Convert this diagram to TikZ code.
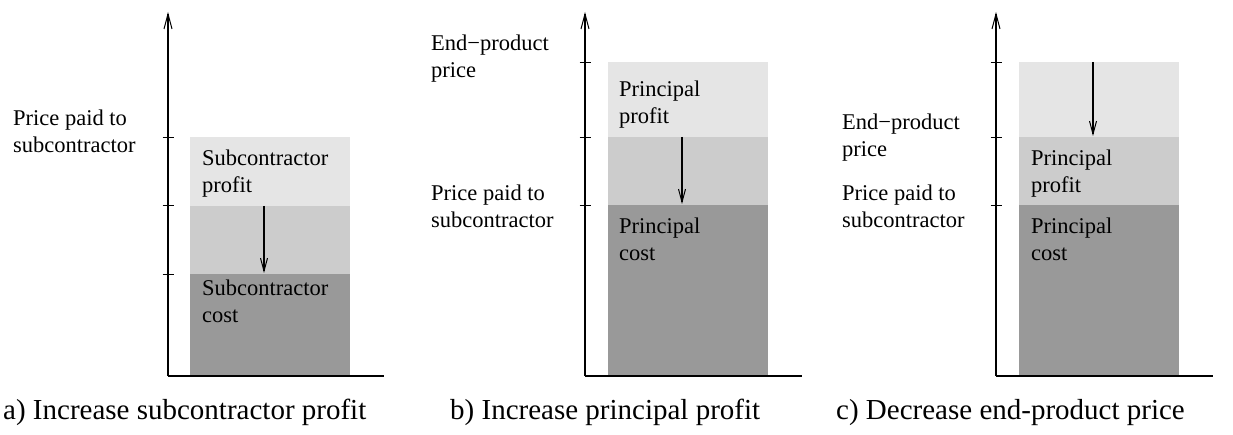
\documentclass[tikz,border=0pt]{standalone}
\usepackage{fontspec}
\setmainfont{Liberation Serif}
\usetikzlibrary{arrows.meta}
\definecolor{layerlight}{HTML}{E5E5E5}
\definecolor{layermid}{HTML}{CCCCCC}
\definecolor{layerdark}{HTML}{999999}
\begin{document}
\begin{tikzpicture}[x=1pt,y=-1pt,
  % two-line labels are placed by the baseline of their last line
  lbl/.style={anchor=base west, inner sep=0pt, align=left,
              font=\fontsize{22.5}{27.5}\selectfont},
  captxt/.style={anchor=base west, inner sep=0pt,
              font=\fontsize{29}{34}\selectfont},
  axisline/.style={line width=1.5pt},
  yaxis/.style={axisline, -{Straight Barb[length=15pt,width=8pt,line width=1pt]}},
  tickmark/.style={line width=0.9pt},
  shiftarrow/.style={line width=1.2pt, -{Straight Barb[length=13pt,width=7pt,line width=1pt]}}]
\useasboundingbox (0,0) rectangle (1233,435);

% ---------- a) subcontractor profit ----------
\fill[layerlight] (190,137) rectangle (350,206);
\fill[layermid]   (190,206) rectangle (350,274);
\fill[layerdark]  (190,274) rectangle (350,375);
\coordinate (a-o) at (168,376);
\coordinate (a-top) at (168,12);
\coordinate (a-end) at (384,376);
\draw[yaxis] (a-o) -- (a-top);
\draw[axisline] (a-o) -- (a-end);
\foreach \y in {137,205,274} \draw[tickmark] (162.5,\y) -- (173.5,\y);
\coordinate (a-from) at (264,206);
\coordinate (a-to) at (264,273);
\draw[shiftarrow] (a-from) -- (a-to);
\node[lbl] (a-paid) at (13,153) {Price paid to\\subcontractor};
\node[lbl] (a-profit) at (202,193) {Subcontractor\\profit};
\node[lbl] (a-cost) at (202,323) {Subcontractor\\cost};
\node[captxt] (a-cap) at (3,419) {a) Increase subcontractor profit};

% ---------- b) principal profit ----------
\fill[layerlight] (608,62) rectangle (768,137);
\fill[layermid]   (608,137) rectangle (768,205);
\fill[layerdark]  (608,205) rectangle (768,375);
\coordinate (b-o) at (585,376);
\coordinate (b-top) at (585,12);
\coordinate (b-end) at (802,376);
\draw[yaxis] (b-o) -- (b-top);
\draw[axisline] (b-o) -- (b-end);
\foreach \y in {62,137,205} \draw[tickmark] (579.5,\y) -- (590.5,\y);
\coordinate (b-from) at (682,137);
\coordinate (b-to) at (682,204);
\draw[shiftarrow] (b-from) -- (b-to);
\node[lbl] (b-end-price) at (431,78) {End−product\\price};
\node[lbl] (b-paid) at (431,228) {Price paid to\\subcontractor};
\node[lbl] (b-profit) at (619,124) {Principal\\profit};
\node[lbl] (b-cost) at (619,261) {Principal\\cost};
\node[captxt] (b-cap) at (450,419) {b) Increase principal profit};

% ---------- c) end-product price ----------
\fill[layerlight] (1019,62) rectangle (1179,137);
\fill[layermid]   (1019,137) rectangle (1179,205);
\fill[layerdark]  (1019,205) rectangle (1179,375);
\coordinate (c-o) at (996,376);
\coordinate (c-top) at (996,12);
\coordinate (c-end) at (1213,376);
\draw[yaxis] (c-o) -- (c-top);
\draw[axisline] (c-o) -- (c-end);
\foreach \y in {62,137,205} \draw[tickmark] (990.5,\y) -- (1001.5,\y);
\coordinate (c-from) at (1093,62);
\coordinate (c-to) at (1093,136);
\draw[shiftarrow] (c-from) -- (c-to);
\node[lbl] (c-end-price) at (842,157) {End−product\\price};
\node[lbl] (c-paid) at (842,228) {Price paid to\\subcontractor};
\node[lbl] (c-profit) at (1031,193) {Principal\\profit};
\node[lbl] (c-cost) at (1031,261) {Principal\\cost};
\node[captxt] (c-cap) at (836,419) {c) Decrease end-product price};
\end{tikzpicture}
\end{document}
